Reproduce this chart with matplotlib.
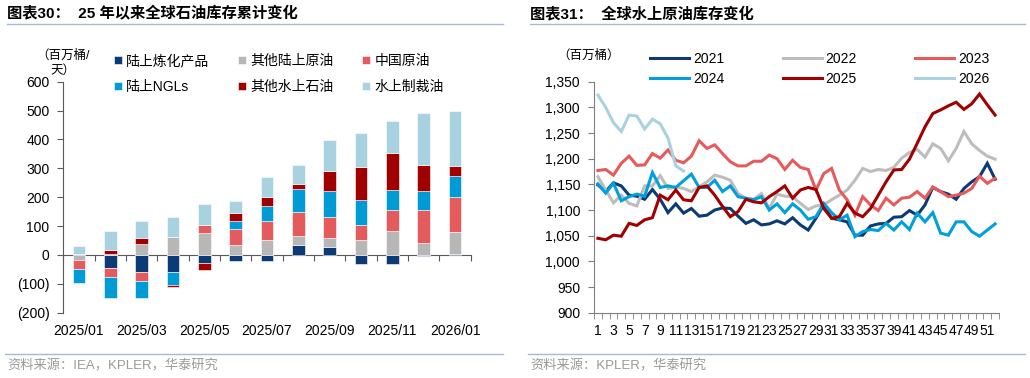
import numpy as np
import matplotlib
matplotlib.use('Agg')
import matplotlib.pyplot as plt
from matplotlib.lines import Line2D
from matplotlib.ticker import FuncFormatter

plt.rcParams['font.family'] = ['Liberation Sans', 'Noto Sans CJK SC']
plt.rcParams['axes.unicode_minus'] = False

# ---- 左图：25年以来全球石油库存累计变化（百万桶）----
months = ['2025/01', '2025/02', '2025/03', '2025/04', '2025/05', '2025/06', '2025/07',
          '2025/08', '2025/09', '2025/10', '2025/11', '2025/12', '2026/01']
names_bar = ['陆上炼化产品', '其他陆上原油', '中国原油', '陆上NGLs', '其他水上石油', '水上制裁油']
onshore_products = [3, -46, -58, -58, -29, -22, -20, 35, 29, -31, -31, -5, 3]
other_onshore_crude = [-17, 4, 38, 61, 77, 36, 53, 32, 30, 52, 84, 43, 78]
china_crude = [-31, -29, -31, 0, 28, 53, 66, 81, 74, 53, 70, 111, 121]
onshore_ngls = [-49, -74, -61, -45, 0, 28, 52, 81, 90, 85, 71, 69, 72]
other_on_water = [0, 13, 21, -9, -23, 28, 29, 15, 69, 116, 127, 89, 34]
sanctioned_on_water = [29, 65, 60, 69, 72, 43, 69, 68, 107, 117, 113, 179, 192]
colors_bar = ['#0b3a74', '#b7b7b7', '#e35b5d', '#009bd5', '#a00000', '#a9d2e1']

# ---- 右图：全球水上原油库存（百万桶），按周 ----
weeks = list(range(1, 53))
y2021 = [1149, 1136, 1153, 1147, 1129, 1127, 1121, 1140, 1121, 1095, 1112, 1094, 1103, 1088, 1090, 1100,
         1104, 1103, 1088, 1074, 1081, 1071, 1073, 1079, 1073, 1085, 1071, 1061, 1084, 1110, 1084, 1081,
         1077, 1051, 1051, 1069, 1073, 1074, 1086, 1087, 1099, 1090, 1110, 1144, 1136, 1131, 1121, 1142,
         1155, 1165, 1191, 1160]
y2022 = [1165, 1139, 1114, 1129, 1113, 1108, 1147, 1147, 1167, 1142, 1145, 1142, 1136, 1145, 1155, 1168,
         1164, 1158, 1132, 1123, 1121, 1132, 1103, 1131, 1127, 1126, 1113, 1101, 1108, 1110, 1120, 1129,
         1139, 1158, 1181, 1175, 1179, 1177, 1183, 1201, 1212, 1218, 1203, 1229, 1220, 1196, 1220, 1253,
         1229, 1216, 1205, 1199]
y2023 = [1177, 1179, 1168, 1191, 1205, 1187, 1188, 1210, 1201, 1217, 1197, 1192, 1205, 1235, 1220, 1227,
         1210, 1194, 1186, 1186, 1195, 1195, 1207, 1200, 1179, 1197, 1183, 1179, 1139, 1171, 1181, 1139,
         1120, 1090, 1126, 1110, 1099, 1123, 1110, 1123, 1125, 1136, 1123, 1145, 1136, 1126, 1129, 1133,
         1142, 1166, 1152, 1162]
y2024 = [1151, 1133, 1152, 1118, 1126, 1131, 1127, 1173, 1144, 1147, 1144, 1157, 1170, 1144, 1144, 1158,
         1136, 1147, 1126, 1123, 1120, 1126, 1100, 1112, 1095, 1112, 1100, 1082, 1087, 1113, 1095, 1081,
         1090, 1048, 1058, 1062, 1060, 1074, 1061, 1077, 1062, 1094, 1077, 1095, 1055, 1051, 1077, 1077,
         1058, 1049, 1061, 1073]
y2025 = [1045, 1042, 1051, 1049, 1074, 1070, 1081, 1085, 1129, 1120, 1139, 1120, 1118, 1144, 1147, 1129,
         1107, 1087, 1097, 1121, 1116, 1114, 1126, 1136, 1147, 1123, 1139, 1144, 1140, 1103, 1084, 1087,
         1113, 1094, 1087, 1103, 1129, 1155, 1178, 1179, 1199, 1230, 1262, 1288, 1295, 1303, 1310, 1296,
         1307, 1326, 1305, 1285]
y2026 = [1324, 1300, 1270, 1253, 1285, 1283, 1258, 1277, 1268, 1240, 1186, 1176]
years = ['2021', '2022', '2023', '2024', '2025', '2026']
colors_line = ['#0b3a74', '#bdbdbd', '#e65a5c', '#00a0dc', '#a00000', '#a9d2e1']

W, H = 1030, 378
fig = plt.figure(figsize=(W / 100, H / 100), dpi=100)

def fx(px):
    return px / W

def fy(py):
    return 1 - py / H

line_col = '#a7bad3'
src_col = '#9a9a9a'

# 标题 / 分隔线 / 资料来源
fig.text(fx(7), fy(14), '图表30：  25 年以来全球石油库存累计变化', fontsize=11,
         fontweight='bold', va='center', ha='left')
fig.text(fx(530), fy(14), '图表31：  全球水上原油库存变化', fontsize=11,
         fontweight='bold', va='center', ha='left')
for x0, x1 in [(7, 503), (530, 1025)]:
    fig.add_artist(Line2D([fx(x0), fx(x1)], [fy(24), fy(24)], color=line_col, lw=1,
                          transform=fig.transFigure))
    fig.add_artist(Line2D([fx(x0 - 2), fx(x1)], [fy(354), fy(354)], color=line_col, lw=1,
                          transform=fig.transFigure))
fig.text(fx(7), fy(366), '资料来源：IEA，KPLER，华泰研究', fontsize=9.5, color=src_col, va='center')
fig.text(fx(530), fy(366), '资料来源：KPLER，华泰研究', fontsize=9.5, color=src_col, va='center')

# ---------- 左图 ----------
ax1 = fig.add_axes([fx(63.3), fy(312.7), fx(470.7 - 63.3), (312.7 - 81.7) / H])
x = np.arange(len(months))
pos_b = np.zeros(len(months))
neg_b = np.zeros(len(months))
bar_handles = []
for name, vals, c in zip(names_bar,
                         [onshore_products, other_onshore_crude, china_crude, onshore_ngls,
                          other_on_water, sanctioned_on_water], colors_bar):
    v = np.array(vals, dtype=float)
    bottom = np.where(v >= 0, pos_b, neg_b)
    h = ax1.bar(x, v, width=0.4, bottom=bottom, color=c, edgecolor='white', linewidth=0.4, label=name)
    bar_handles.append(h)
    pos_b += np.clip(v, 0, None)
    neg_b += np.clip(v, None, 0)

ax1.set_xlim(-0.5, len(months) - 0.5)
ax1.set_ylim(-200, 600)
ax1.set_yticks(range(-200, 601, 100))
ax1.yaxis.set_major_formatter(FuncFormatter(lambda v, p: f'({abs(v):.0f})' if v < 0 else f'{v:.0f}'))
ax1.set_xticks(x[::2])
ax1.set_xticklabels(months[::2])
ax1.tick_params(axis='x', length=0, pad=8, labelsize=10)
ax1.tick_params(axis='y', length=4, direction='out', pad=6, labelsize=10, color='#595959')
for s in ['top', 'right', 'bottom']:
    ax1.spines[s].set_visible(False)
ax1.spines['left'].set_color('#595959')

sec = ax1.secondary_xaxis(0.25)
sec.set_xticks(np.arange(-0.5, len(months), 1))
sec.tick_params(length=4, direction='out', labelbottom=False, labeltop=False, color='#595959')
sec.spines['bottom'].set_color('#595959')
sec.spines['top'].set_color('#595959')

fig.text(fx(63), fy(63.5), '（百万桶/\n天）', fontsize=9, ha='center', va='center',
         multialignment='center', linespacing=1.35)

order = [0, 3, 1, 4, 2, 5]
fig.legend([bar_handles[i] for i in order], [names_bar[i] for i in order], ncol=3,
           loc='upper left', bbox_to_anchor=(fx(114), fy(54)), frameon=False, fontsize=10,
           handlelength=0.55, handleheight=0.55, handletextpad=0.3, columnspacing=2.1,
           labelspacing=0.85, borderpad=0, borderaxespad=0)

# ---------- 右图 ----------
ax2 = fig.add_axes([fx(594), fy(312.7), fx(405), (312.7 - 81.7) / H])
lines = []
for yr, vals, c in zip(years, [y2021, y2022, y2023, y2024, y2025, y2026], colors_line):
    ln, = ax2.plot(weeks[:len(vals)], vals, color=c, lw=2.2, label=yr, solid_joinstyle='miter')
    lines.append(ln)
ax2.set_xlim(0.5, 52.5)
ax2.set_ylim(900, 1350)
ax2.set_yticks(range(900, 1351, 50))
ax2.yaxis.set_major_formatter(FuncFormatter(lambda v, p: f'{v:,.0f}'))
ax2.set_xticks(weeks[::2])
ax2.set_xticklabels([str(w) for w in weeks[::2]])
ax2.set_xticks(np.arange(0.5, 53, 1), minor=True)
ax2.tick_params(axis='x', which='major', length=0, pad=8, labelsize=10)
ax2.tick_params(axis='x', which='minor', length=4, direction='out', color='#7f7f7f')
ax2.tick_params(axis='y', length=4, direction='out', pad=6, labelsize=10, color='#7f7f7f')
for s in ['top', 'right']:
    ax2.spines[s].set_visible(False)
ax2.spines['left'].set_color('#7f7f7f')
ax2.spines['bottom'].set_color('#7f7f7f')

fig.text(fx(589), fy(56), '（百万桶）', fontsize=9, ha='center', va='center')

order2 = [0, 3, 1, 4, 2, 5]
fig.legend([lines[i] for i in order2], [years[i] for i in order2], ncol=3,
           loc='upper left', bbox_to_anchor=(fx(650), fy(52)), frameon=False, fontsize=10,
           handlelength=2.8, handletextpad=0.3, columnspacing=4.2,
           labelspacing=0.42, borderpad=0, borderaxespad=0)

fig.savefig('out.png', dpi=100)
